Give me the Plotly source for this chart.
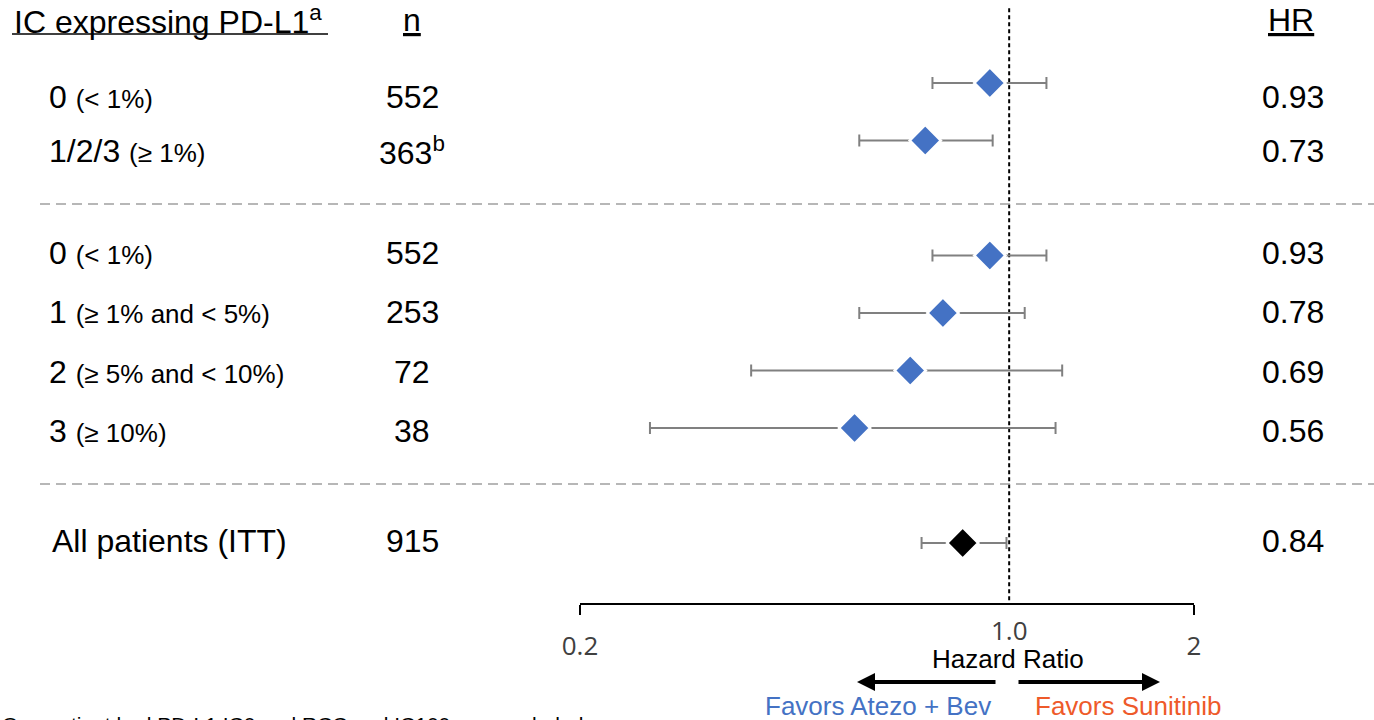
import math
import plotly.graph_objects as go

# ---------------- data ----------------
row_label = ["0", "1/2/3", "0", "1", "2", "3", "All patients (ITT)"]
row_detail = ["(< 1%)", "(≥ 1%)", "(< 1%)", "(≥ 1% and < 5%)", "(≥ 5% and < 10%)", "(≥ 10%)", ""]
row_group = [0, 0, 1, 1, 1, 1, 2]
n_patients = ["552", "363", "552", "253", "72", "38", "915"]
n_footnote = ["", "b", "", "", "", "", ""]
hazard_ratio = [0.93, 0.73, 0.93, 0.78, 0.69, 0.56, 0.84]
ci_lower = [0.75, 0.57, 0.75, 0.57, 0.38, 0.26, 0.72]
ci_upper = [1.15, 0.94, 1.15, 1.06, 1.22, 1.19, 0.99]
x_tick_values = [0.2, 2]
x_tick_labels = ["0.2", "2"]
reference_hr = 1.0
reference_label = "1.0"
x_min, x_max = 0.2, 2

header_label = "IC expressing PD-L1"
header_n = "n"
header_hr = "HR"
axis_title = "Hazard Ratio"
favors_left = "Favors Atezo + Bev"
favors_right = "Favors Sunitinib"
footnote = "One patient had PD-L1 IC0 and RCC and IC100 was excluded."

# ---------------- layout helpers ----------------
W, H = 1374, 720
def X(p):
    return p / W
def Y(p):
    return 1 - p / H

ROW0_PX = 83
ROW_STEP = 57.5
AXIS_PX = 603
TEXT_ROW_PX = [97, 151, 253, 312, 372, 431, 541]
SEP_PX = [204, 484]

# slot positions: consecutive rows, with one empty slot between groups
slots = []
s = 0
prev = row_group[0]
for g in row_group:
    if g != prev:
        s += 1
    slots.append(s)
    s += 1
    prev = g

y_top = (0 - ROW0_PX) / ROW_STEP
y_bot = (AXIS_PX - ROW0_PX) / ROW_STEP

BIG = 32
SMALL = 26
FONT = "Liberation Sans, Arial, sans-serif"
TICKFONT = "Open Sans, Noto Sans, sans-serif"
BLUE = "#4472C4"
ORANGE = "#EE5A2A"

fig = go.Figure()

# reference dashed line at HR = 1
fig.add_trace(go.Scatter(
    x=[reference_hr, reference_hr], y=[-1.3, y_bot], mode="lines",
    line=dict(color="black", width=2, dash="4px,3px"),
    hoverinfo="skip", cliponaxis=False))

idx_sub = [i for i, g in enumerate(row_group) if g != row_group[-1]]
idx_all = [i for i, g in enumerate(row_group) if g == row_group[-1]]

for idx, color in ((idx_sub, BLUE), (idx_all, "black")):
    fig.add_trace(go.Scatter(
        x=[hazard_ratio[i] for i in idx],
        y=[slots[i] for i in idx],
        mode="markers",
        marker=dict(symbol="diamond", size=24, color=color,
                    line=dict(color="white", width=2.5)),
        error_x=dict(type="data", symmetric=False,
                     array=[ci_upper[i] - hazard_ratio[i] for i in idx],
                     arrayminus=[hazard_ratio[i] - ci_lower[i] for i in idx],
                     color="#808080", thickness=2, width=6),
        cliponaxis=False, hoverinfo="skip"))

annotations = []
def note(text, xp, yp, size=BIG, color="black", anchor="center", family=FONT):
    annotations.append(dict(text=text, x=X(xp), y=Y(yp), xref="paper", yref="paper",
                            xanchor=anchor, yanchor="middle", showarrow=False,
                            font=dict(family=family, size=size, color=color)))

# headers
note(f"{header_label}<sup>a</sup>", 12, 20, anchor="left")
note(f"<u>{header_n}</u>", 412, 20)
note(f"<u>{header_hr}</u>", 1291, 20)

for i in range(len(row_label)):
    detail = row_detail[i].replace("<", "&lt;")
    txt = row_label[i]
    if detail:
        txt += f" <span style='font-size:{SMALL}px'>{detail}</span>"
    note(txt, 50 if not detail else 47, TEXT_ROW_PX[i], anchor="left")
    ntxt = n_patients[i] + (f"<sup>{n_footnote[i]}</sup>" if n_footnote[i] else "")
    note(ntxt, 412, TEXT_ROW_PX[i])
    note(f"{hazard_ratio[i]:.2f}", 1293, TEXT_ROW_PX[i])

# reference tick label (raised)
annotations.append(dict(text=reference_label, x=math.log10(reference_hr), xref="x", y=Y(630), yref="paper",
                        xanchor="center", yanchor="middle", showarrow=False,
                        font=dict(family=TICKFONT, size=26, color="#404040")))
note(axis_title, 1008, 659, size=26)
# arrows
for tip, off in ((857, 140), (1160, -143)):
    annotations.append(dict(text="", x=X(tip), y=Y(682), xref="paper", yref="paper",
                            ax=off, ay=0, showarrow=True,
                            arrowhead=2, arrowwidth=4, arrowsize=0.9, arrowcolor="black"))
note(favors_left, 878, 706, size=26, color=BLUE)
note(favors_right, 1128, 706, size=26, color=ORANGE)
note(footnote, 0, 724, size=21, anchor="left")

shapes = []
for p in SEP_PX:
    shapes.append(dict(type="line", xref="paper", yref="paper", x0=X(40), x1=1, y0=Y(p), y1=Y(p),
                       line=dict(color="#A0A0A0", width=1.5, dash="10px,6px")))
# header underline
shapes.append(dict(type="line", xref="paper", yref="paper", x0=X(12), x1=X(328), y0=Y(34), y1=Y(34),
                   line=dict(color="black", width=1.6)))

fig.update_layout(
    width=W, height=H, margin=dict(l=0, r=0, t=0, b=0, autoexpand=False),
    paper_bgcolor="white", plot_bgcolor="white", showlegend=False,
    annotations=annotations, shapes=shapes,
    xaxis=dict(type="log", range=[math.log10(x_min), math.log10(x_max)],
               domain=[X(580), X(1194)], showline=True, linecolor="black", linewidth=2,
               ticks="outside", tickvals=x_tick_values, ticktext=x_tick_labels,
               ticklen=10, tickwidth=2, tickcolor="black", ticklabelstandoff=9,
               tickfont=dict(family=TICKFONT, size=26, color="#404040"),
               showgrid=False, zeroline=False, fixedrange=True),
    yaxis=dict(range=[y_bot, y_top], domain=[1 - AXIS_PX / H, 1], visible=False,
               showgrid=False, zeroline=False, fixedrange=True),
)

fig.write_html("out.html")
